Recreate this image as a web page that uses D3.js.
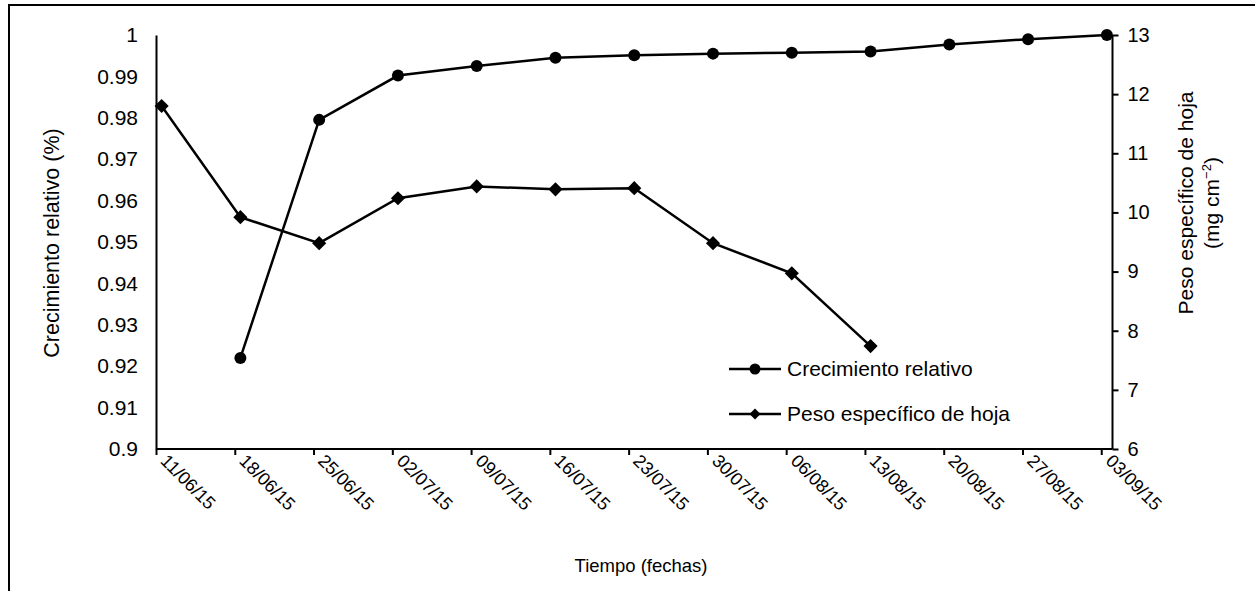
<!DOCTYPE html>
<html><head><meta charset="utf-8">
<script src="https://cdn.jsdelivr.net/npm/d3@7"></script>
<style>body{margin:0;background:#fff}svg{display:block;font-family:"Liberation Sans",Arial,sans-serif}</style>
</head><body><svg id="c" width="1255" height="591"></svg>
<script>
const dates = ["11/06/15","18/06/15","25/06/15","02/07/15","09/07/15","16/07/15","23/07/15","30/07/15","06/08/15","13/08/15","20/08/15","27/08/15","03/09/15"];
const crecimiento = [null,0.922,0.9795,0.9902,0.9925,0.9945,0.9951,0.9955,0.9957,0.996,0.9977,0.999,1.0];
const peso = [11.80,9.92,9.48,10.24,10.44,10.39,10.41,9.48,8.97,7.74,null,null,null];
const leftTicks = [0.9,0.91,0.92,0.93,0.94,0.95,0.96,0.97,0.98,0.99,1];
const rightTicks = [6,7,8,9,10,11,12,13];

const parse = d3.timeParse("%d/%m/%y");
const dd = dates.map(parse);
const svg = d3.select("#c");
const L=156, R=1112.5, T=35, B=449;
const FF = '"Liberation Sans",Arial,sans-serif';

svg.append("path").attr("d","M9,591V5H1255").attr("fill","none").attr("stroke","#000").attr("stroke-width",2);

const x = d3.scaleTime().domain([dd[0], d3.timeDay.offset(dd[12],1)]).range([L,R]);
const xp = d => x(d3.timeHour.offset(d,12));
const yL = d3.scaleLinear().domain([0.9,1]).range([B,T]);
const yR = d3.scaleLinear().domain([6,13]).range([B,T]);

// x axis
const xa = svg.append("g").attr("transform",`translate(0,${B})`)
  .call(d3.axisBottom(x).tickValues(dd).tickFormat(d3.timeFormat("%d/%m/%y")).tickSizeInner(6).tickSizeOuter(0));
xa.attr("font-family",FF);
xa.select(".domain").attr("stroke-width",2).attr("d",`M${L},0H${R}`);
xa.selectAll(".tick line").attr("stroke-width",2);
xa.selectAll(".tick text").attr("font-size",18).attr("fill","#000")
  .attr("text-anchor","start").attr("transform","translate(3,13) rotate(45)").attr("dy","0").attr("y",0).attr("x",0);

// left axis
const ya = svg.append("g").attr("transform",`translate(${L},0)`)
  .call(d3.axisLeft(yL).tickValues(leftTicks).tickFormat(d=>String(+d.toFixed(2))).tickSize(0).tickPadding(18));
ya.attr("font-family",FF);
ya.select(".domain").attr("stroke-width",2);
ya.selectAll(".tick text").attr("font-size",21).attr("fill","#000");

// right axis
const yra = svg.append("g").attr("transform",`translate(${R},0)`)
  .call(d3.axisRight(yR).tickValues(rightTicks).tickFormat(d3.format("d")).tickSizeInner(6).tickSizeOuter(0).tickPadding(9));
yra.attr("font-family",FF);
yra.select(".domain").attr("stroke-width",2).attr("d",`M0,${T}V${B}`);
yra.selectAll(".tick line").attr("stroke-width",2);
yra.selectAll(".tick text").attr("font-size",20).attr("fill","#000");

// series
const data1 = dd.map((d,i)=>({d,v:crecimiento[i]})).filter(p=>p.v!=null);
const data2 = dd.map((d,i)=>({d,v:peso[i]})).filter(p=>p.v!=null);
svg.append("path").datum(data1).attr("fill","none").attr("stroke","#000").attr("stroke-width",2.5)
  .attr("d",d3.line().x(p=>xp(p.d)).y(p=>yL(p.v)));
svg.append("path").datum(data2).attr("fill","none").attr("stroke","#000").attr("stroke-width",2.5)
  .attr("d",d3.line().x(p=>xp(p.d)).y(p=>yR(p.v)));
svg.selectAll(".c1").data(data1).enter().append("circle")
  .attr("cx",p=>xp(p.d)).attr("cy",p=>yL(p.v)).attr("r",6).attr("fill","#000");
svg.selectAll(".d2").data(data2).enter().append("path")
  .attr("d",d3.symbol().type(d3.symbolSquare).size(100))
  .attr("transform",p=>`translate(${xp(p.d)},${yR(p.v)}) rotate(45)`).attr("fill","#000");

// titles
svg.append("text").attr("transform","translate(59,243) rotate(-90)").attr("text-anchor","middle")
  .attr("font-size",21.5).text("Crecimiento relativo (%)");
const rt = svg.append("text").attr("transform","translate(1193,203) rotate(-90)").attr("text-anchor","middle").attr("font-size",21);
rt.append("tspan").attr("x",0).attr("dy",0).text("Peso específico de hoja");
const t2 = rt.append("tspan").attr("x",0).attr("dy",26).text("(mg cm");
t2.append("tspan").attr("font-size",13).attr("dy",-8).text("−2");
rt.append("tspan").attr("dy",8).text(")");
svg.append("text").attr("x",641).attr("y",572).attr("text-anchor","middle").attr("font-size",18.5).text("Tiempo (fechas)");

// legend
const lg = svg.append("g");
[["Crecimiento relativo","c"],["Peso específico de hoja","d"]].forEach((e,i)=>{
  const yy = 369 + i*45;
  lg.append("line").attr("x1",729).attr("x2",781).attr("y1",yy).attr("y2",yy).attr("stroke","#000").attr("stroke-width",2.5);
  if(e[1]==="c") lg.append("circle").attr("cx",755).attr("cy",yy).attr("r",5.5).attr("fill","#000");
  else lg.append("path").attr("d",d3.symbol().type(d3.symbolSquare).size(60)).attr("transform",`translate(755,${yy}) rotate(45)`).attr("fill","#000");
  lg.append("text").attr("x",787).attr("y",yy+7).attr("font-size",21).text(e[0]);
});
</script></body></html>
